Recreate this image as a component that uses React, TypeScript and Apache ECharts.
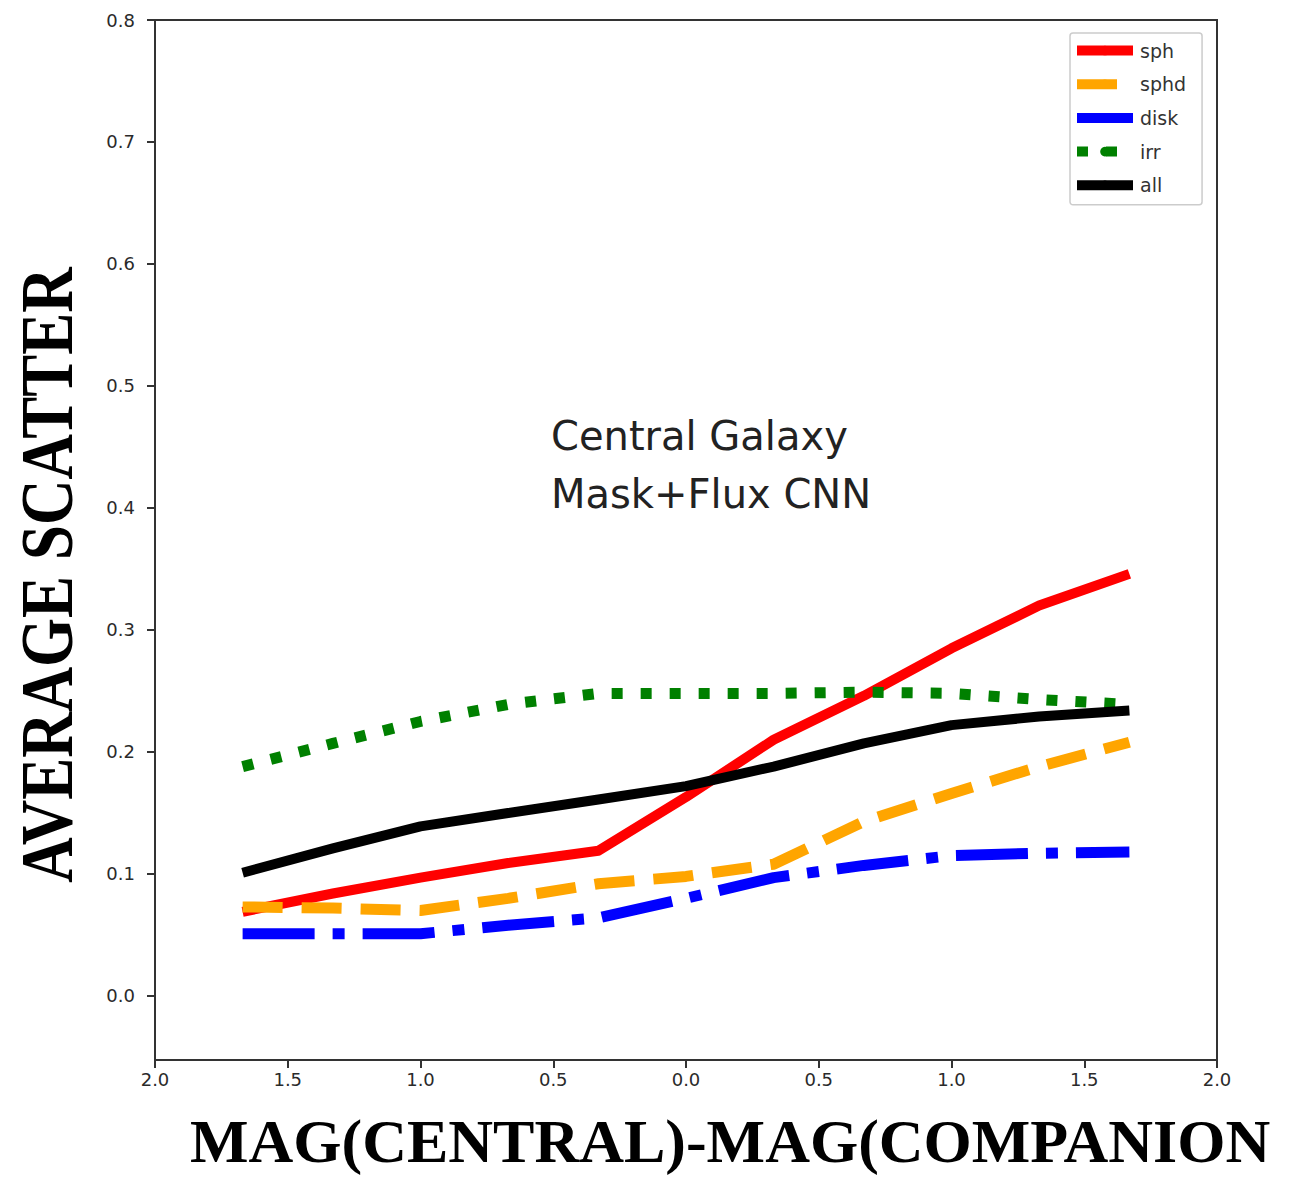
import React, { useEffect, useRef } from "react";
import * as echarts from "echarts";

// Magnitude-difference bin centres (x) and mean scatter per morphology (y)
const magDiff = [-1.67, -1.33, -1.0, -0.67, -0.33, 0.0, 0.33, 0.67, 1.0, 1.33, 1.67];
const sph = [0.069, 0.084, 0.097, 0.109, 0.119, 0.163, 0.21, 0.246, 0.285, 0.32, 0.346];
const sphd = [0.073, 0.072, 0.07, 0.08, 0.092, 0.098, 0.108, 0.143, 0.166, 0.188, 0.208];
const disk = [0.051, 0.051, 0.051, 0.058, 0.064, 0.08, 0.097, 0.107, 0.115, 0.117, 0.118];
const irr = [0.188, 0.207, 0.225, 0.239, 0.248, 0.248, 0.248, 0.249, 0.248, 0.243, 0.239];
const all = [0.101, 0.121, 0.139, 0.15, 0.161, 0.172, 0.188, 0.207, 0.222, 0.229, 0.234];

const yTicks = [0, 0.1, 0.2, 0.3, 0.4, 0.5, 0.6, 0.7, 0.8];

const pairs = (ys: number[]) => magDiff.map((x, i) => [x, ys[i]]);

const tickFont = { fontFamily: "DejaVu Sans", fontSize: 18, color: "#2a2a2a" };

export default function App() {
  const ref = useRef<HTMLDivElement>(null);

  useEffect(() => {
    if (!ref.current) return;
    const chart = echarts.init(ref.current, null, { renderer: "svg" });

    const mk = (name: string, ys: number[], color: string, type: any, width = 10) => ({
      name,
      type: "line",
      data: pairs(ys),
      symbol: "none",
      lineStyle: { color, width, type, cap: "butt", join: "round" },
      itemStyle: { color },
      z: 3,
    });

    chart.setOption({
      animation: false,
      backgroundColor: "#ffffff",
      grid: {
        left: 155,
        right: 87,
        top: 20,
        bottom: 119,
        show: true,
        borderColor: "#333",
        borderWidth: 2,
        backgroundColor: "transparent",
      },
      xAxis: {
        type: "value",
        min: -2,
        max: 2,
        interval: 0.5,
        axisLine: { show: false, onZero: false },
        axisTick: { show: true, inside: false, length: 8, lineStyle: { color: "#333", width: 2 } },
        splitLine: { show: false },
        axisLabel: {
          ...tickFont,
          margin: 10,
          formatter: (v: number) => Math.abs(v).toFixed(1),
        },
      },
      yAxis: {
        type: "value",
        min: -0.0525,
        max: 0.8,
        axisLine: { show: false, onZero: false },
        splitLine: { show: false },
        axisTick: {
          show: true,
          length: 8,
          customValues: yTicks,
          lineStyle: { color: "#333", width: 2 },
        },
        axisLabel: {
          ...tickFont,
          margin: 20,
          customValues: yTicks,
          formatter: (v: number) => v.toFixed(1),
        },
      },
      legend: {
        orient: "vertical",
        left: 1070,
        top: 33,
        padding: [8, 16, 10, 2],
        itemWidth: 56,
        itemHeight: 12,
        itemGap: 14.7,
        borderColor: "#cccccc",
        borderWidth: 1.5,
        borderRadius: 3,
        backgroundColor: "rgba(255,255,255,0.8)",
        textStyle: { fontFamily: "DejaVu Sans", fontSize: 19, color: "#333", padding: [0, 0, 0, 2] },
        lineStyle: { width: 10 },
        data: ["sph", "sphd", "disk", "irr", "all"],
      },
      series: [
        mk("sph", sph, "#ff0000", "solid"),
        mk("sphd", sphd, "#ffa500", [40, 19], 11),
        mk("disk", disk, "#0000ff", [72, 18, 12, 18], 11),
        mk("irr", irr, "#008000", [11, 18], 11),
        mk("all", all, "#000000", "solid"),
      ],
      graphic: [
        {
          type: "text",
          x: 551,
          y: 436,
          style: {
            text: "Central Galaxy",
            fontFamily: "DejaVu Sans",
            fontSize: 40,
            fill: "#222",
            textVerticalAlign: "middle",
          },
        },
        {
          type: "text",
          x: 551,
          y: 494,
          style: {
            text: "Mask+Flux CNN",
            fontFamily: "DejaVu Sans",
            fontSize: 40,
            fill: "#222",
            textVerticalAlign: "middle",
          },
        },
        {
          type: "text",
          x: 47,
          y: 575,
          rotation: Math.PI / 2,
          scaleX: 0.84,
          style: {
            text: "AVERAGE SCATTER",
            fontFamily: "Liberation Serif",
            fontWeight: "bold",
            fontSize: 75,
            fill: "#000",
            textAlign: "center",
            textVerticalAlign: "middle",
          },
        },
        {
          type: "text",
          x: 190,
          y: 1141,
          style: {
            text: "MAG(CENTRAL)-MAG(COMPANION",
            fontFamily: "Liberation Serif",
            fontWeight: "bold",
            fontSize: 62,
            fill: "#000",
            textVerticalAlign: "middle",
          },
        },
      ],
    });

    return () => chart.dispose();
  }, []);

  return (
    <div
      ref={ref}
      style={{ position: "fixed", left: 0, top: 0, width: 1304, height: 1179, background: "#fff" }}
    />
  );
}
